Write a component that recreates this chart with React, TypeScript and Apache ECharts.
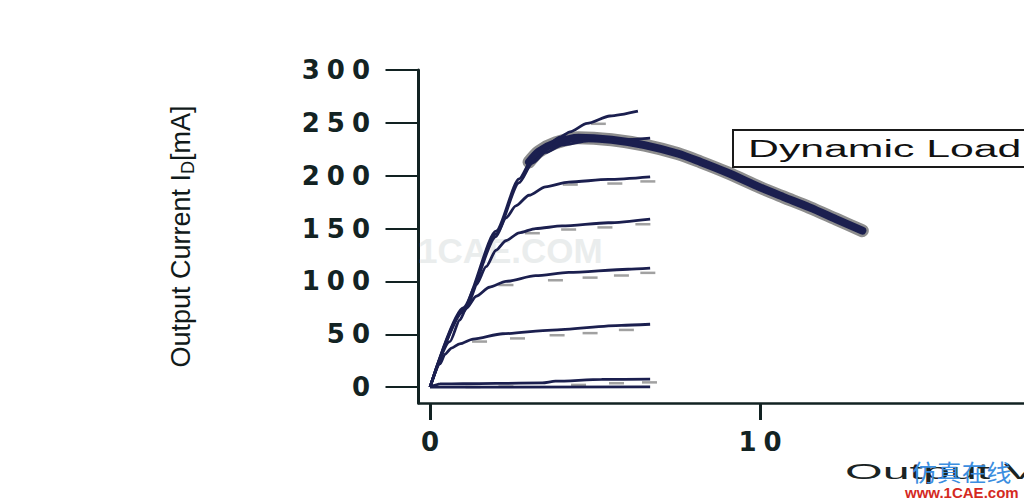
import React, { useEffect, useRef } from "react";
import * as echarts from "echarts";

// ---- tick labels ----
const yTickValues = [0, 50, 100, 150, 200, 250, 300];
const xTickValues = [0, 10];

// ---- simulated output characteristics [V_DS (V), I_D (mA)] ----
const curveA = [[0, 0], [1, 75], [2, 147.5], [2.7, 197], [3.1, 216], [3.5, 227.5], [3.94, 236.5], [4.24, 241.5], [4.76, 249.5], [5.45, 256.5], [6.3, 261]];
const curveB = [[0, 0], [1, 73.5], [2, 145], [2.7, 193.5], [3.1, 212], [3.5, 222], [4, 229], [4.8, 233], [5.8, 234], [6.67, 235.5]];
const curveC = [[0, 0], [1, 72], [2, 142.5], [2.3, 160], [2.6, 171.5], [3.0, 181.5], [3.5, 189.5], [4.2, 194], [5.4, 196.5], [6.67, 199]];
const curveD = [[0, 0], [1, 71], [1.4, 97], [1.7, 114], [2.0, 129.5], [2.3, 138.5], [2.7, 146], [3.2, 150], [4.0, 152.5], [5.4, 155.5], [6.67, 159]];
const curveE = [[0, 0], [0.6, 43], [0.9, 63.5], [1.1, 74.5], [1.4, 86], [1.8, 94.5], [2.3, 100], [3.2, 105.5], [4.2, 108.5], [6.0, 111.5], [6.67, 112.5]];
const curveF = [[0, 0], [0.3, 22], [0.45, 31], [0.65, 37], [0.9, 41], [1.3, 45.5], [2.2, 50.5], [3.7, 54], [5.8, 58.5], [6.67, 59.5]];
const curveG = [[0, 0], [0.1, 1.5], [0.3, 3], [1, 3.2], [2, 3.5], [3.4, 4], [3.8, 5.6], [5.2, 7.3], [6.67, 7.6]];
const curveH = [[0, 0], [6.67, 0.3]];

// ---- measured points (gray dashes) ----
const measA = [[4.3, 238], [5.1, 251]];
const measB = [[6.0, 231]];
const measC = [[4.25, 193.5], [5.6, 194.5], [6.6, 196.5]];
const measD = [[3.1, 147.5], [4.2, 151], [5.3, 153], [6.45, 156]];
const measE = [[2.3, 98.5], [3.8, 103], [4.85, 105.5], [5.8, 107.5], [6.6, 110]];
const measF = [[1.5, 45], [2.65, 48], [3.85, 51], [4.85, 53], [5.95, 56]];
const measG = [[1.3, 2], [2.3, 2.5], [4.5, 4], [5.65, 5.6], [6.65, 6.4]];

// ---- dynamic load trajectory ----
const dynamicLoad = [[3.0, 213], [3.3, 223], [3.8, 231], [4.5, 236], [5.5, 234], [6.5, 229], [7.5, 221], [8.2, 213], [9, 203], [10, 189], [10.7, 180], [11.5, 170], [12.3, 159], [13.1, 148]];

const NAVY = "#1b1f4f";
const AXIS = "#122222";

const spaced = (v: number) =>
  String(v)
    .split("")
    .map((c) => `{c|${c}}`)
    .join("");

const labelRich = {
  c: {
    fontFamily: "DejaVu Sans",
    fontWeight: "bold",
    fontSize: 26,
    color: "#132323",
    padding: [0, 3.5],
  },
};

export default function App() {
  const ref = useRef<HTMLDivElement>(null);
  useEffect(() => {
    if (!ref.current) return;
    const chart = echarts.init(ref.current, null, { renderer: "svg" });

    const curves = [curveA, curveB, curveC, curveD, curveE, curveF, curveG, curveH];
    const meas = [measA, measB, measC, measD, measE, measF, measG];

    const series: any[] = [];
    meas.forEach((m, i) => {
      series.push({
        type: "scatter",
        name: "measured" + i,
        data: m,
        symbol: "rect",
        symbolSize: [15, 2.5],
        symbolOffset: [0, 2],
        itemStyle: { color: "#8a8a8a" },
        z: 1,
        silent: true,
      });
    });
    series.push({
      type: "line",
      name: "dynamicHalo",
      data: dynamicLoad,
      showSymbol: false,
      smooth: 0.3,
      lineStyle: { color: "#8e8e8e", width: 13, cap: "round", join: "round" },
      z: 2,
      silent: true,
    });
    series.push({
      type: "line",
      name: "Dynamic Load",
      data: dynamicLoad,
      showSymbol: false,
      smooth: 0.3,
      lineStyle: { color: NAVY, width: 8, cap: "round", join: "round" },
      z: 3,
      silent: true,
    });
    curves.forEach((c, i) => {
      series.push({
        type: "line",
        name: "curve" + i,
        data: c,
        showSymbol: false,
        smooth: 0.25,
        smoothMonotone: "x",
        lineStyle: { color: NAVY, width: 2.8 },
        z: 4,
        silent: true,
      });
    });

    chart.setOption({
      animation: false,
      backgroundColor: "#ffffff",
      grid: { left: 418.5, right: 0, top: 70, height: 333 },
      xAxis: {
        type: "value",
        min: -0.35,
        max: 18,
        splitLine: { show: false },
        axisLine: { onZero: false, lineStyle: { color: AXIS, width: 2.5 } },
        axisTick: { show: true, customValues: xTickValues, length: 17, lineStyle: { color: AXIS, width: 3 } },
        axisLabel: { customValues: xTickValues, margin: 26, formatter: spaced, rich: labelRich },
      },
      yAxis: {
        type: "value",
        min: -15,
        max: 300,
        splitLine: { show: false },
        axisLine: { show: true, onZero: false, lineStyle: { color: AXIS, width: 3 } },
        axisTick: { show: true, customValues: yTickValues, length: 33, lineStyle: { color: AXIS, width: 2 } },
        axisLabel: { customValues: yTickValues, margin: 45, formatter: spaced, rich: labelRich },
        name: "{a|Output Current I}{s|D}{a|[mA]}",
        nameLocation: "middle",
        nameRotate: 90,
        nameGap: 222,
        nameTextStyle: {
          rich: {
            a: { fontFamily: "'Liberation Sans Narrow', 'Liberation Sans'", fontSize: 27, color: "#111a1a", lineHeight: 32, verticalAlign: "middle" },
            s: { fontFamily: "'Liberation Sans Narrow', 'Liberation Sans'", fontSize: 18, color: "#111a1a", verticalAlign: "bottom" },
          },
        },
      },
      graphic: [
        {
          type: "text",
          x: 418,
          y: 250,
          z: 1,
          silent: true,
          style: { text: "1CAE.COM", fontFamily: "Liberation Sans", fontWeight: "bold", fontSize: 35, fill: "#eaeded", verticalAlign: "middle" },
        },
        {
          type: "rect",
          z: 10,
          shape: { x: 733, y: 130, width: 340, height: 37 },
          style: { fill: "#ffffff", stroke: "#1a1a1a", lineWidth: 2 },
        },
        {
          type: "text",
          x: 748,
          y: 149,
          scaleX: 1.86,
          z: 11,
          style: { text: "Dynamic Load", fontFamily: "Liberation Sans", fontSize: 23, fill: "#111111", verticalAlign: "middle" },
        },
        {
          type: "text",
          x: 845,
          y: 471,
          scaleX: 2.2,
          z: 10,
          style: {
            text: "Output Voltage V{s|DS}[V]",
            fontFamily: "Liberation Sans",
            fontSize: 22,
            fill: "#1a2424",
            verticalAlign: "middle",
            rich: { s: { fontSize: 14, fontFamily: "Liberation Sans", fill: "#1a2424", verticalAlign: "bottom" } },
          },
        },
        {
          type: "text",
          x: 912,
          y: 471,
          scaleX: 1.08,
          z: 12,
          style: { text: "仿真在线", fontFamily: "Noto Sans CJK SC", fontSize: 23, fill: "#3b8ee0", verticalAlign: "middle" },
        },
        {
          type: "text",
          x: 905,
          y: 492,
          z: 12,
          style: { text: "www.1CAE.com", fontFamily: "Liberation Sans", fontWeight: "bold", fontSize: 15, fill: "#d42a1f", verticalAlign: "middle" },
        },
      ],
      series,
    });
    return () => chart.dispose();
  }, []);
  return (
    <div
      ref={ref}
      style={{ position: "fixed", left: 0, top: 0, width: 1024, height: 499, background: "#fff" }}
    />
  );
}
